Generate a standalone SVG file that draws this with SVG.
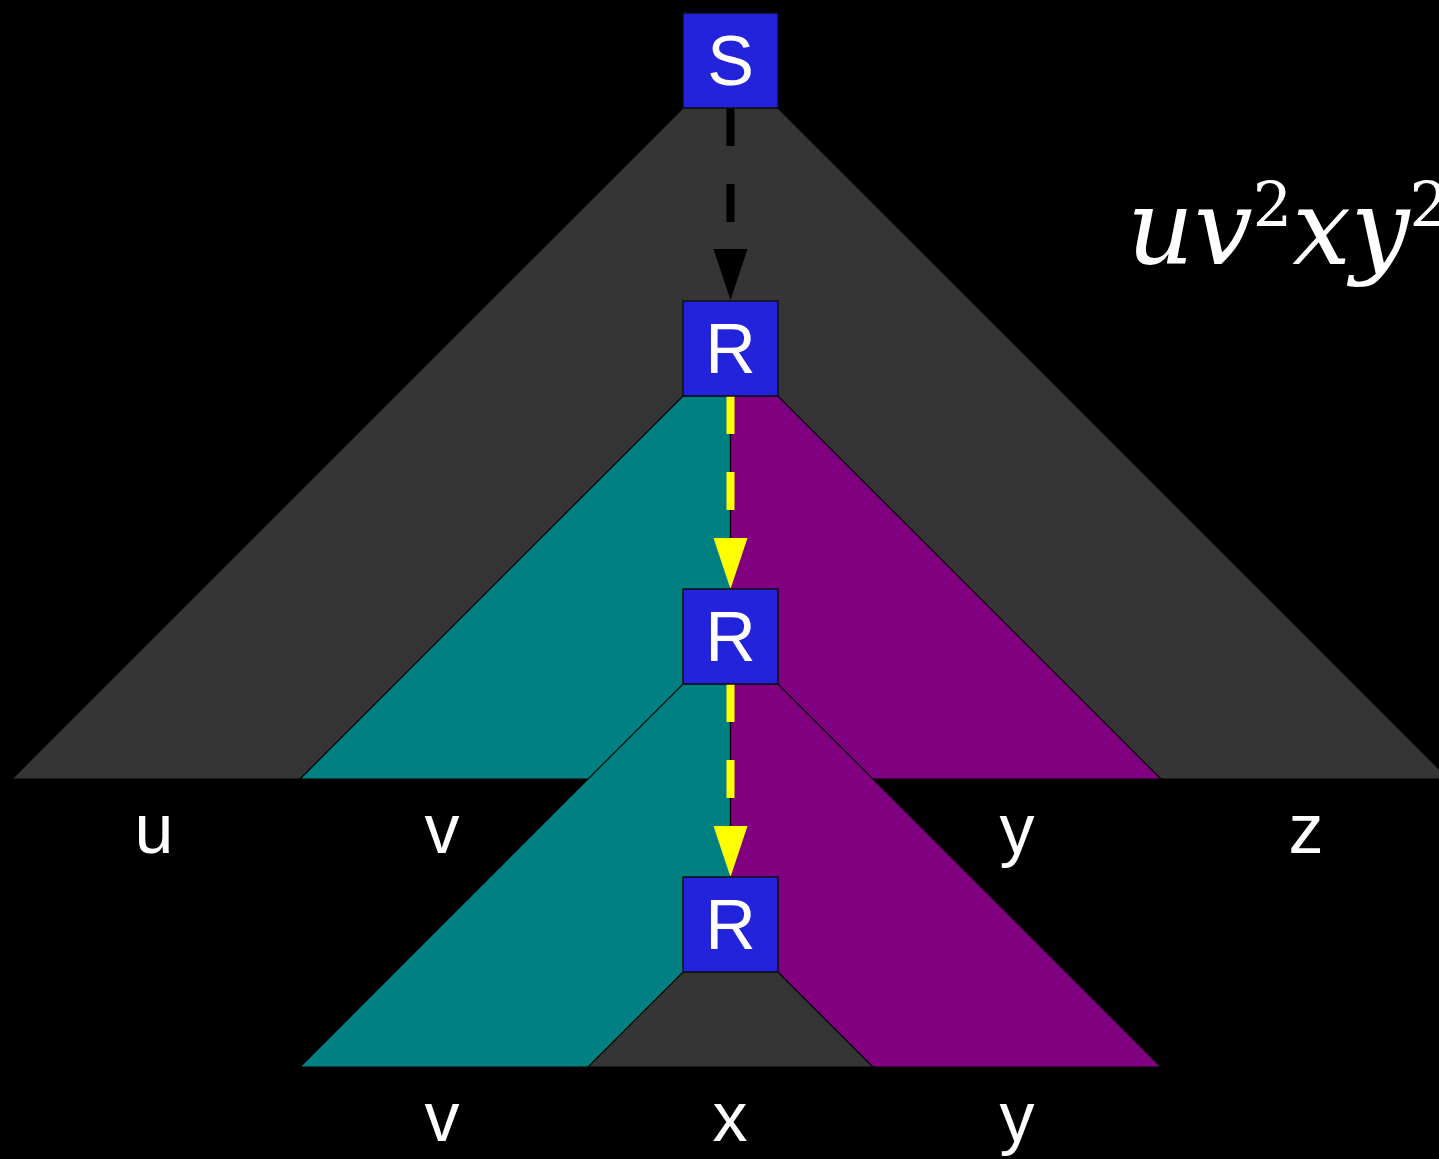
<svg xmlns="http://www.w3.org/2000/svg" width="1439" height="1159" viewBox="0 0 1439 1159">
<style>
.gray{fill:#353535;stroke:#000;stroke-width:1.2}
.teal{fill:#008080;stroke:#000;stroke-width:1.2}
.purple{fill:#800080;stroke:#000;stroke-width:1.2}
.box{fill:#2323dc;stroke:#111;stroke-width:1.5}
.nt{font-family:"Liberation Sans",Arial,sans-serif;font-size:70px;fill:#fff;text-anchor:middle}
.lbl{font-family:"Liberation Sans",Arial,sans-serif;font-size:70px;fill:#fff;text-anchor:middle}
.blk{stroke:#000;stroke-width:8;stroke-dasharray:38 38;fill:none}
.yel{stroke:#ffff00;stroke-width:8;stroke-dasharray:38 38;fill:none}
</style>
<defs>
<marker id="ab" markerUnits="userSpaceOnUse" markerWidth="52" markerHeight="36" refX="0" refY="17" orient="auto" viewBox="0 0 52 36" overflow="visible"><path d="M0,0 L51,17 L0,34 z" fill="#000"/></marker>
<marker id="ay" markerUnits="userSpaceOnUse" markerWidth="52" markerHeight="36" refX="0" refY="17" orient="auto" viewBox="0 0 52 36" overflow="visible"><path d="M0,0 L51,17 L0,34 z" fill="#ffff00"/></marker>
</defs>
<rect width="1439" height="1159" fill="#000"/>
<g id="regions">
<polygon class="gray" points="683,108 778,108 1449,779 12,779"/>
<polygon class="teal" points="683,396 730.5,396 730.5,779 300,779"/>
<polygon class="purple" points="730.5,396 778,396 1161,779 730.5,779"/>
<polygon class="teal" points="683,684 730.5,684 730.5,1067 300,1067"/>
<polygon class="purple" points="730.5,684 778,684 1161,1067 730.5,1067"/>
<polygon class="gray" points="683,972 778,972 873,1067 588,1067"/>
</g>
<g id="connectors">
<line class="blk" x1="730.5" y1="108" x2="730.5" y2="249" marker-end="url(#ab)"/>
<line class="yel" x1="730.5" y1="396" x2="730.5" y2="538" marker-end="url(#ay)"/>
<line class="yel" x1="730.5" y1="684" x2="730.5" y2="826" marker-end="url(#ay)"/>
</g>
<g id="node-S"><rect class="box" x="683" y="13" width="95" height="95"/><text class="nt" x="730.5" y="85">S</text></g>
<g id="node-R1"><rect class="box" x="683" y="301" width="95" height="95"/><text class="nt" x="730.5" y="373">R</text></g>
<g id="node-R2"><rect class="box" x="683" y="589" width="95" height="95"/><text class="nt" x="730.5" y="661">R</text></g>
<g id="node-R3"><rect class="box" x="683" y="877" width="95" height="95"/><text class="nt" x="730.5" y="949">R</text></g>
<g id="labels">
<text class="lbl" x="154" y="853">u</text>
<text class="lbl" x="442" y="853">v</text>
<text class="lbl" x="1017" y="853">y</text>
<text class="lbl" x="1306" y="853">z</text>
<text class="lbl" x="442" y="1141">v</text>
<text class="lbl" x="730" y="1141">x</text>
<text class="lbl" x="1017" y="1141">y</text>
<text x="1127" y="264" font-family="DejaVu Serif,serif" font-size="104" fill="#fff"><tspan font-style="italic">uv</tspan><tspan font-size="62" dy="-38">2</tspan><tspan font-style="italic" dy="38">xy</tspan><tspan font-size="62" dy="-38">2</tspan></text>
</g>
</svg>
